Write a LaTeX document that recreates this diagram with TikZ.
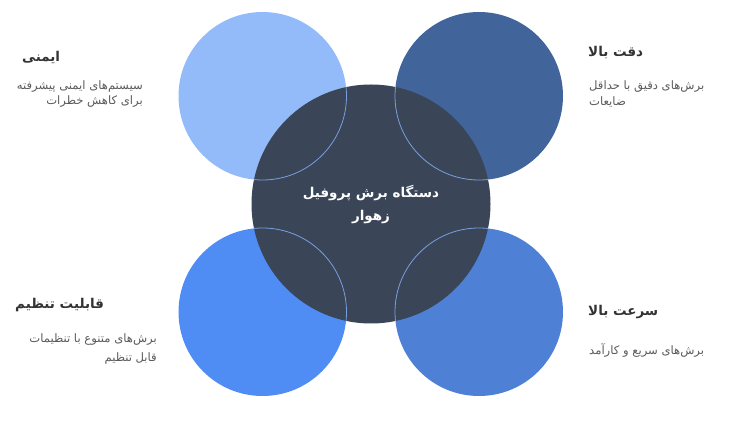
\documentclass[tikz,border=0pt]{standalone}
\usepackage{fontspec}
\TeXXeTstate=1
\newfontfamily\arabicfont[Script=Arabic]{DejaVu Sans}
\definecolor{cTL}{HTML}{93BBFA}
\definecolor{cTR}{HTML}{41649A}
\definecolor{cBL}{HTML}{4F8DF5}
\definecolor{cBR}{HTML}{4E81D6}
\definecolor{cMid}{HTML}{3A4558}
\definecolor{cRim}{HTML}{7A9FE0}
\definecolor{cTitle}{HTML}{333333}
\definecolor{cDesc}{HTML}{5A5A5A}
\tikzset{
  petal/.style={circle, minimum size=168pt, inner sep=0pt},
  hub/.style={circle, minimum size=239pt, inner sep=0pt, fill=cMid},
  rim/.style={circle, minimum size=168pt, inner sep=0pt, draw=cRim, line width=0.8pt},
  ttl/.style={inner sep=0pt, text=cTitle, font=\arabicfont\bfseries\fontsize{13.5}{16}\selectfont},
  dsc/.style={inner sep=0pt, text=cDesc, font=\arabicfont\fontsize{11.6}{14}\selectfont},
  hubtxt/.style={inner sep=0pt, text=white, font=\arabicfont\bfseries\fontsize{13.5}{16}\selectfont}
}
\begin{document}
\begin{tikzpicture}[x=1pt,y=-1pt]
\useasboundingbox (0,0) rectangle (740,427);
\node[petal, fill=cTL] (tl) at (262.5,96) {};
\node[petal, fill=cTR] (tr) at (479,96) {};
\node[petal, fill=cBL] (bl) at (262.5,312) {};
\node[petal, fill=cBR] (br) at (479,312) {};
\node[hub] (hub) at (371,204) {};
\begin{scope}
\clip (371,204) circle (119.5pt);
\node[rim] (tlr) at (262.5,96) {};
\node[rim] (trr) at (479,96) {};
\node[rim] (blr) at (262.5,312) {};
\node[rim] (brr) at (479,312) {};
\end{scope}
\node[hubtxt] (h1) at (371,193) {\beginR دستگاه برش پروفیل\endR};
\node[hubtxt] (h2) at (371,217) {\beginR زهوار\endR};
% top-left
\node[ttl, anchor=west] (t1) at (22,57) {\beginR ایمنی\endR};
\node[dsc, anchor=east] (d1a) at (143,87) {\beginR سیستم‌های ایمنی پیشرفته\endR};
\node[dsc, anchor=east] (d1b) at (143,102) {\beginR برای کاهش خطرات\endR};
% top-right
\node[ttl, anchor=west] (t2) at (588,53) {\beginR دقت بالا\endR};
\node[dsc, anchor=west] (d2a) at (589,87) {\beginR برش‌های دقیق با حداقل\endR};
\node[dsc, anchor=west] (d2b) at (589,102) {\beginR ضایعات\endR};
% bottom-left
\node[ttl, anchor=west] (t3) at (15,305) {\beginR قابلیت تنظیم\endR};
\node[dsc, anchor=east] (d3a) at (157,340) {\beginR برش‌های متنوع با تنظیمات\endR};
\node[dsc, anchor=east] (d3b) at (157,358) {\beginR قابل تنظیم\endR};
% bottom-right
\node[ttl, anchor=west] (t4) at (588,312) {\beginR سرعت بالا\endR};
\node[dsc, anchor=west] (d4a) at (589,350) {\beginR برش‌های سریع و کارآمد\endR};
\end{tikzpicture}
\end{document}
